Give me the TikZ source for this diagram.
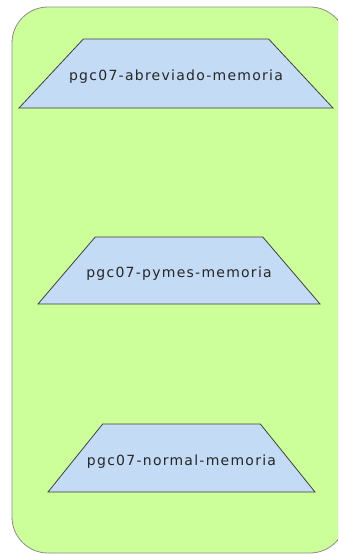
\documentclass[tikz,border=0pt]{standalone}
\usepackage{fontspec}
\setmainfont{DejaVu Sans}
\usetikzlibrary{shapes.geometric}
\definecolor{pkggreen}{HTML}{CCFF99}
\definecolor{docblue}{HTML}{C3DBF5}
\tikzset{
	memo/.style={trapezium, trapezium stretches body, draw=black!75, fill=docblue,
		line width=0.8pt, inner xsep=-40pt, outer sep=0pt,
		text height=14pt, text depth=-2pt, text=black!85,
		font=\fontsize{14}{16}\selectfont\addfontfeatures{LetterSpace=9}}
}
\begin{document}
\begin{tikzpicture}[x=1pt, y=-1pt]
	%frame
	\clip (0,0) rectangle (338,555);
	\fill[white] (0,0) rectangle (338,555);
	\draw[draw=black!45, fill=pkggreen, line width=0.8pt, rounded corners=36pt]
		(12,7) rectangle (346,553);
	%documents
	\node[memo, minimum width=314pt, inner ysep=27.5pt,
		trapezium left angle=47, trapezium right angle=47]
		(abreviado) at (176,73.5) {pgc07-abreviado-memoria};
	\node[memo, minimum width=282pt, inner ysep=26.5pt,
		trapezium left angle=49.5, trapezium right angle=49.5]
		(pymes) at (179,270.5) {pgc07-pymes-memoria};
	\node[memo, minimum width=267pt, inner ysep=27pt,
		trapezium left angle=51.2, trapezium right angle=51.2]
		(normal) at (181.5,458) {pgc07-normal-memoria};
\end{tikzpicture}
\end{document}
